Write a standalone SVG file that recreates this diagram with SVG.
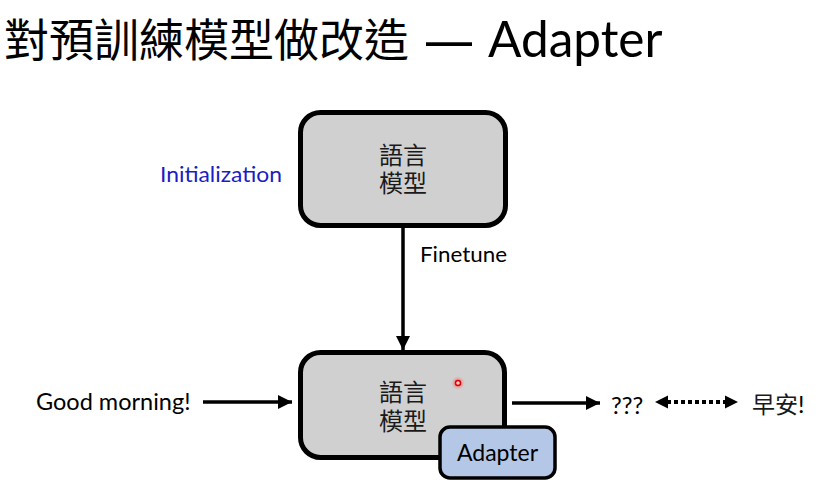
<svg xmlns="http://www.w3.org/2000/svg" width="821" height="492" viewBox="0 0 821 492">
  <defs>
    <style>
      .lat { font-family: Lato, "Noto Sans", "Noto Sans CJK TC", sans-serif; fill: #000; }
      .cjk { font-family: "Noto Sans CJK TC", "Noto Sans CJK SC", sans-serif; fill: #1a1a1a; }
      .box { fill: #d0d0d0; stroke: #000; stroke-width: 5; }
      .adp { fill: #b4c7e7; stroke: #000; stroke-width: 3.5; }
      .line { stroke: #000; stroke-width: 3.5; fill: none; }
    </style>
    <marker id="ah" viewBox="0 0 10 10" refX="10" refY="5" markerWidth="4" markerHeight="4" markerUnits="strokeWidth" orient="auto">
      <path d="M0,0 L10,5 L0,10 Z" fill="#000"/>
    </marker>
    <radialGradient id="glow">
      <stop offset="0" stop-color="#ff2020" stop-opacity="0.9"/>
      <stop offset="0.5" stop-color="#ff4040" stop-opacity="0.4"/>
      <stop offset="1" stop-color="#ff8080" stop-opacity="0"/>
    </radialGradient>
  </defs>
  <rect width="821" height="492" fill="#fff"/>

  <g id="title">
    <text class="cjk" y="57" font-size="45" style="fill:#000"><tspan x="4">對預訓練模型做改造</tspan><tspan x="424" style="font-family:'Noto Sans',sans-serif" font-size="50">—</tspan><tspan x="488" class="lat" font-size="49.5">Adapter</tspan></text>
  </g>

  <g id="connectors">
    <line class="line" x1="403" y1="228" x2="403" y2="350" marker-end="url(#ah)"/>
    <line class="line" x1="203" y1="402" x2="292" y2="402" marker-end="url(#ah)"/>
    <line class="line" x1="512" y1="403" x2="600" y2="403" marker-end="url(#ah)"/>
    <line x1="667" y1="402" x2="725" y2="402" stroke="#000" stroke-width="4" stroke-dasharray="4 3"/>
    <path d="M655,402 L668,395.5 L668,408.5 Z" fill="#000"/>
    <path d="M738,402 L725,395.5 L725,408.5 Z" fill="#000"/>
  </g>

  <g id="node-init-label">
    <text class="lat" x="160" y="182" font-size="22" textLength="122" lengthAdjust="spacingAndGlyphs" style="fill:#1c1cc4">Initialization</text>
  </g>
  <g id="node-finetune-label">
    <text class="lat" x="420" y="262" font-size="22" textLength="87" lengthAdjust="spacingAndGlyphs">Finetune</text>
  </g>

  <g id="node-lm-top">
    <rect class="box" x="300.5" y="112.5" width="205" height="113" rx="20"/>
    <text class="cjk" font-size="24" text-anchor="middle"><tspan x="403" y="164">語言</tspan><tspan x="403" y="192">模型</tspan></text>
  </g>

  <g id="node-lm-bottom">
    <rect class="box" x="300.5" y="352.5" width="204" height="105" rx="20"/>
    <text class="cjk" font-size="24" text-anchor="middle"><tspan x="403" y="401">語言</tspan><tspan x="403" y="430">模型</tspan></text>
  </g>

  <g id="node-adapter">
    <rect class="adp" x="440" y="427" width="115" height="51" rx="10"/>
    <text class="lat" x="497.5" y="461" font-size="23" text-anchor="middle">Adapter</text>
  </g>

  <g id="node-input">
    <text class="lat" x="36" y="410" font-size="23.5">Good morning!</text>
  </g>
  <g id="node-output">
    <text class="lat" x="611" y="414" font-size="24">???</text>
  </g>
  <g id="node-target">
    <text class="cjk" x="752" y="413" font-size="23">早安<tspan class="lat" font-size="24">!</tspan></text>
  </g>

  <g id="pointer">
    <circle cx="458" cy="383" r="7" fill="url(#glow)"/>
    <circle cx="458" cy="383" r="2.5" fill="#ffd0d0" stroke="#e00000" stroke-width="1.5"/>
  </g>
</svg>
